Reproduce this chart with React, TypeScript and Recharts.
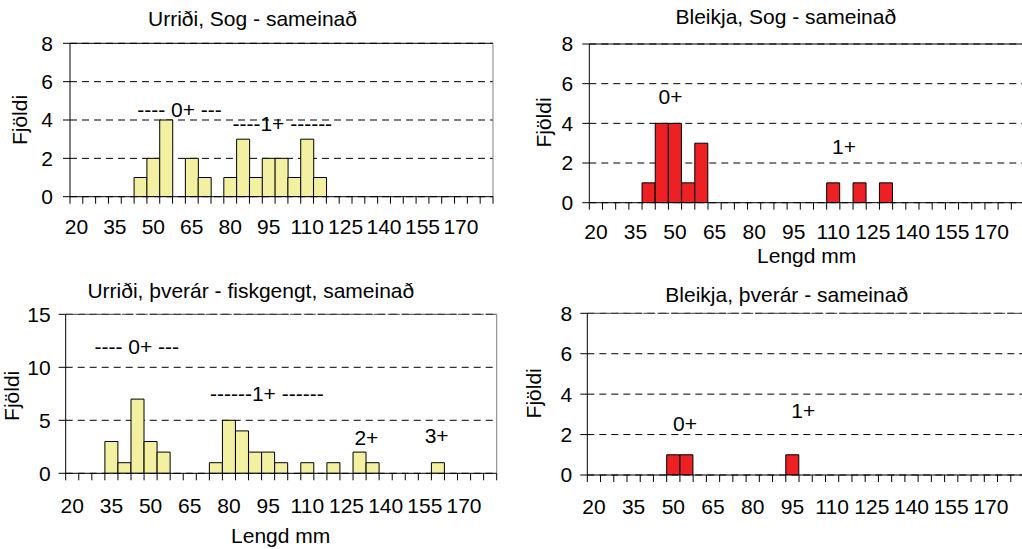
import React from "react";
import {
  BarChart,
  Bar,
  XAxis,
  YAxis,
  CartesianGrid,
  ReferenceLine,
  ReferenceDot,
} from "recharts";

// ---------- DATA ----------
const lengthBins = [
  20, 25, 30, 35, 40, 45, 50, 55, 60, 65, 70, 75, 80, 85, 90, 95, 100, 105, 110,
  115, 120, 125, 130, 135, 140, 145, 150, 155, 160, 165, 170, 175, 180,
];
const tickLabelValues = [20, 35, 50, 65, 80, 95, 110, 125, 140, 155, 170];

const urridiSogCounts = [
  0, 0, 0, 0, 0, 1, 2, 4, 0, 2, 1, 0, 1, 3, 1, 2, 2, 1, 3, 1, 0, 0, 0, 0, 0, 0,
  0, 0, 0, 0, 0, 0, 0,
];
const bleikjaSogCounts = [
  0, 0, 0, 0, 1, 4, 4, 1, 3, 0, 0, 0, 0, 0, 0, 0, 0, 0, 1, 0, 1, 0, 1, 0, 0, 0,
  0, 0, 0, 0, 0, 0, 0,
];
const urridiThverarCounts = [
  0, 0, 0, 3, 1, 7, 3, 2, 0, 0, 0, 1, 5, 4, 2, 2, 1, 0, 1, 0, 1, 0, 2, 1, 0, 0,
  0, 0, 1, 0, 0, 0, 0,
];
const bleikjaThverarCounts = [
  0, 0, 0, 0, 0, 0, 1, 1, 0, 0, 0, 0, 0, 0, 0, 1, 0, 0, 0, 0, 0, 0, 0, 0, 0, 0,
  0, 0, 0, 0, 0, 0, 0,
];

// age-group annotations (x in mm, y in count)
const urridiSogNotes = [
  { x: 60.2, y: 4.52, text: "---- 0+ ---" },
  { x: 100.3, y: 3.83, text: "----1+ ------" },
];
const bleikjaSogNotes = [
  { x: 48.3, y: 5.34, text: "0+" },
  { x: 114.1, y: 2.82, text: "1+" },
];
const urridiThverarNotes = [
  { x: 44.7, y: 12.0, text: "---- 0+ ---" },
  { x: 94.5, y: 7.55, text: "------1+ ------" },
  { x: 132.6, y: 3.36, text: "2+" },
  { x: 159.5, y: 3.55, text: "3+" },
];
const bleikjaThverarNotes = [
  { x: 54.4, y: 2.56, text: "0+" },
  { x: 99.1, y: 3.18, text: "1+" },
];

const titles = [
  "Urriði, Sog - sameinað",
  "Bleikja, Sog - sameinað",
  "Urriði, þverár - fiskgengt, sameinað",
  "Bleikja, þverár - sameinað",
];
const yAxisTitle = "Fjöldi";
const xAxisTitle = "Lengd mm";

// ---------- STYLE ----------
const FONT = '"Liberation Sans", Arial, Helvetica, sans-serif';
const YELLOW = "#F3F1A1";
const RED = "#ED2024";
const FS = 21;

type PanelCfg = {
  counts: number[];
  notes: { x: number; y: number; text: string }[];
  fill: string;
  yMax: number;
  yTicks: number[];
  box: { left: number; top: number; w: number; h: number };
  plot: { l: number; t: number; r: number; b: number };
  yTickMargin: number;
  xLabelBaseline: number;
  rightBorder: boolean;
  topDash?: string;
  topColor: string;
};

const panels: PanelCfg[] = [
  {
    counts: urridiSogCounts,
    notes: urridiSogNotes,
    fill: YELLOW,
    yMax: 8,
    yTicks: [0, 2, 4, 6, 8],
    box: { left: 0, top: 0, w: 510, h: 270 },
    plot: { l: 70, t: 43.3, r: 493, b: 196.7 },
    yTickMargin: 10,
    xLabelBaseline: 234,
    rightBorder: true,
    topColor: "#000",
  },
  {
    counts: bleikjaSogCounts,
    notes: bleikjaSogNotes,
    fill: RED,
    yMax: 8,
    yTicks: [0, 2, 4, 6, 8],
    box: { left: 510, top: 0, w: 520, h: 270 },
    plot: { l: 79.3, t: 44, r: 514.5, b: 202.7 },
    yTickMargin: 9,
    xLabelBaseline: 239,
    rightBorder: false,
    topColor: "#000",
  },
  {
    counts: urridiThverarCounts,
    notes: urridiThverarNotes,
    fill: YELLOW,
    yMax: 15,
    yTicks: [0, 5, 10, 15],
    box: { left: 0, top: 270, w: 510, h: 279 },
    plot: { l: 65.7, t: 44.3, r: 496.7, b: 203.3 },
    yTickMargin: 8,
    xLabelBaseline: 242.5,
    rightBorder: true,
    topDash: "12 2",
    topColor: "#444",
  },
  {
    counts: bleikjaThverarCounts,
    notes: bleikjaThverarNotes,
    fill: RED,
    yMax: 8,
    yTicks: [0, 2, 4, 6, 8],
    box: { left: 510, top: 270, w: 520, h: 279 },
    plot: { l: 77.3, t: 43.3, r: 514, b: 205 },
    yTickMargin: 8,
    xLabelBaseline: 244.2,
    rightBorder: false,
    topDash: "12 2",
    topColor: "#444",
  },
];

const Y_AXIS_W = 50;
const X_AXIS_H = 40;

function Panel({ cfg }: { cfg: PanelCfg }) {
  const { box, plot } = cfg;
  const data = lengthBins.map((len, i) => ({
    len,
    label: String(len),
    count: cfg.counts[i],
  }));
  const bw = (plot.r - plot.l) / lengthBins.length;
  const half = bw / 2;

  const renderTick = (props: any) => {
    const { x, index, payload } = props;
    const showLabel = tickLabelValues.includes(Number(payload.value));
    return (
      <g>
        <line x1={x - half} x2={x - half} y1={plot.b} y2={plot.b + 7} stroke="#000" />
        {index === lengthBins.length - 1 && (
          <line x1={x + half} x2={x + half} y1={plot.b} y2={plot.b + 7} stroke="#000" />
        )}
        {showLabel && (
          <text
            x={x}
            y={cfg.xLabelBaseline}
            textAnchor="middle"
            fontSize={FS}
            fontFamily={FONT}
            fill="#000"
          >
            {payload.value}
          </text>
        )}
      </g>
    );
  };

  return (
    <div style={{ position: "absolute", left: box.left, top: box.top }}>
      <BarChart
        width={box.w}
        height={box.h}
        data={data}
        margin={{
          top: plot.t,
          left: plot.l - Y_AXIS_W,
          right: box.w - plot.r,
          bottom: box.h - plot.b - X_AXIS_H,
        }}
        barCategoryGap={0}
        barGap={0}
      >
        <CartesianGrid vertical={false} stroke="#000" strokeDasharray="7 5" />
        <XAxis
          dataKey="label"
          type="category"
          interval={0}
          tickLine={false}
          axisLine={{ stroke: "#000" }}
          tick={renderTick}
          height={X_AXIS_H}
        />
        <XAxis
          xAxisId="num"
          type="number"
          dataKey="len"
          domain={[17.5, 182.5]}
          allowDataOverflow
          hide
        />
        <YAxis
          type="number"
          domain={[0, cfg.yMax]}
          ticks={cfg.yTicks}
          interval={0}
          width={Y_AXIS_W}
          tickSize={7}
          tickMargin={cfg.yTickMargin}
          axisLine={{ stroke: "#000" }}
          tickLine={{ stroke: "#000" }}
          tick={{ fontSize: FS, fill: "#000", fontFamily: FONT }}
          allowDataOverflow
        />
        <ReferenceLine
          y={cfg.yMax}
          stroke={cfg.topColor}
          strokeDasharray={cfg.topDash}
        />
        {cfg.rightBorder && (
          <ReferenceLine xAxisId="num" x={182.5} stroke="#808080" />
        )}
        <Bar
          dataKey="count"
          fill={cfg.fill}
          stroke="#000"
          strokeWidth={1}
          isAnimationActive={false}
        />
        {cfg.notes.map((n, i) => (
          <ReferenceDot
            key={i}
            xAxisId="num"
            x={n.x}
            y={n.y}
            r={0}
            fill="none"
            stroke="none"
            label={{
              value: n.text,
              position: "center",
              fontSize: FS,
              fill: "#000",
              fontFamily: FONT,
            }}
          />
        ))}
      </BarChart>
    </div>
  );
}

export default function App() {
  const textProps = { fontFamily: FONT, fontSize: FS, fill: "#000" };
  return (
    <div
      style={{
        position: "absolute",
        left: 0,
        top: 0,
        width: 1022,
        height: 549,
        overflow: "hidden",
        background: "#fff",
      }}
    >
      {panels.map((p, i) => (
        <Panel key={i} cfg={p} />
      ))}
      <svg
        width={1022}
        height={549}
        style={{ position: "absolute", left: 0, top: 0, pointerEvents: "none" }}
      >
        <text x={252.5} y={26} textAnchor="middle" {...textProps}>{titles[0]}</text>
        <text x={785.8} y={24} textAnchor="middle" {...textProps}>{titles[1]}</text>
        <text x={250.8} y={298.3} textAnchor="middle" {...textProps}>{titles[2]}</text>
        <text x={786.7} y={301.7} textAnchor="middle" {...textProps}>{titles[3]}</text>

        <text transform="translate(27,120) rotate(-90)" textAnchor="middle" {...textProps}>{yAxisTitle}</text>
        <text transform="translate(551,122.5) rotate(-90)" textAnchor="middle" {...textProps}>{yAxisTitle}</text>
        <text transform="translate(19,395.8) rotate(-90)" textAnchor="middle" {...textProps}>{yAxisTitle}</text>
        <text transform="translate(541,393.3) rotate(-90)" textAnchor="middle" {...textProps}>{yAxisTitle}</text>

        <text x={806.7} y={263} textAnchor="middle" {...textProps}>{xAxisTitle}</text>
        <text x={280.7} y={542.6} textAnchor="middle" {...textProps}>{xAxisTitle}</text>
      </svg>
    </div>
  );
}
